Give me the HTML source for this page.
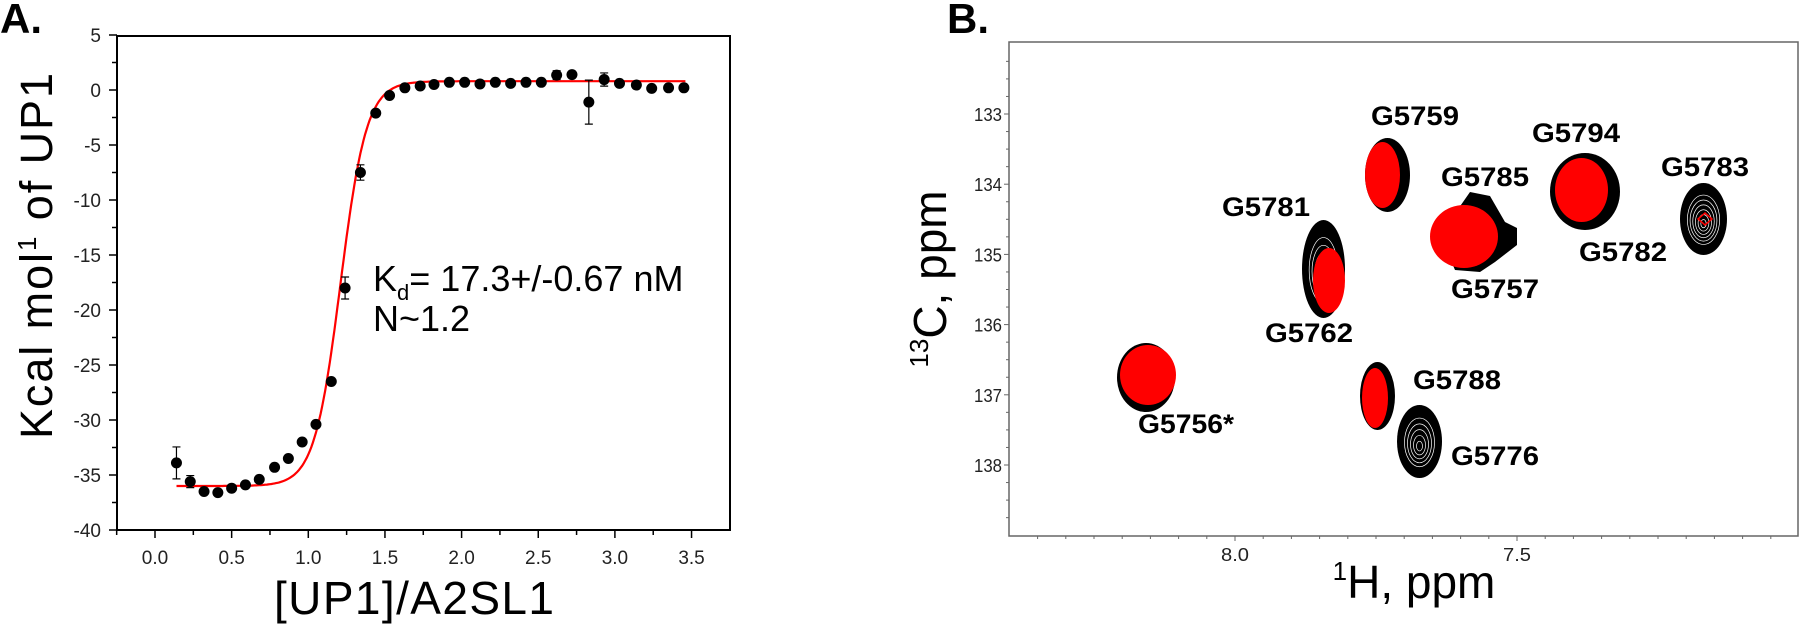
<!DOCTYPE html>
<html><head><meta charset="utf-8"><style>
html,body{margin:0;padding:0;background:#fff;}
svg{display:block;font-family:"Liberation Sans",sans-serif;}
</style></head><body>
<svg id="s" width="1800" height="625" viewBox="0 0 1800 625" xmlns="http://www.w3.org/2000/svg">
<rect width="1800" height="625" fill="#fff"/>
<!-- Panel A -->
<text x="0" y="33" font-size="42" font-weight="bold">A.</text>
<rect x="117" y="36" width="613" height="494" fill="none" stroke="#000" stroke-width="2"/>
<g id="aticks" stroke="#000" stroke-width="1.5"></g>
<g id="alabels" font-size="19" fill="#222"></g>
<text x="414" y="614" font-size="46" text-anchor="middle" textLength="280">[UP1]/A2SL1</text>
<text transform="translate(52,256) rotate(-90)" font-size="45" text-anchor="middle" textLength="366">Kcal mol<tspan font-size="26" dy="-16">1</tspan><tspan dy="16"> of UP1</tspan></text>
<path id="fit" fill="none" stroke="#f00" stroke-width="2.2"/>
<g id="pts"></g>
<text x="373" y="291" font-size="36">K<tspan font-size="22" dy="9">d</tspan><tspan dy="-9">= 17.3+/-0.67 nM</tspan></text>
<text x="373" y="331" font-size="36">N~1.2</text>
<!-- Panel B -->
<text x="947" y="33" font-size="42" font-weight="bold">B.</text>
<rect x="1009" y="42" width="789" height="494" fill="none" stroke="#666" stroke-width="1.5"/>
<g id="bticks" stroke="#666" stroke-width="1"></g>
<g id="blabels" font-size="18" fill="#222"></g>
<text x="1414" y="598" font-size="46" text-anchor="middle"><tspan font-size="26" dy="-18">1</tspan><tspan dy="18">H, ppm</tspan></text>
<text transform="translate(946,279) rotate(-90)" font-size="46" text-anchor="middle"><tspan font-size="26" dy="-18">13</tspan><tspan dy="18">C, ppm</tspan></text>
<g id="peaks"></g>
<g font-size="27" font-weight="bold" fill="#000" lengthAdjust="spacingAndGlyphs">
<text x="1371" y="125" textLength="88" lengthAdjust="spacingAndGlyphs">G5759</text>
<text x="1532" y="142" textLength="88" lengthAdjust="spacingAndGlyphs">G5794</text>
<text x="1441" y="186" textLength="88" lengthAdjust="spacingAndGlyphs">G5785</text>
<text x="1661" y="176" textLength="88" lengthAdjust="spacingAndGlyphs">G5783</text>
<text x="1222" y="216" textLength="88" lengthAdjust="spacingAndGlyphs">G5781</text>
<text x="1579" y="261" textLength="88" lengthAdjust="spacingAndGlyphs">G5782</text>
<text x="1451" y="298" textLength="88" lengthAdjust="spacingAndGlyphs">G5757</text>
<text x="1265" y="342" textLength="88" lengthAdjust="spacingAndGlyphs">G5762</text>
<text x="1413" y="389" textLength="88" lengthAdjust="spacingAndGlyphs">G5788</text>
<text x="1138" y="433" textLength="96" lengthAdjust="spacingAndGlyphs">G5756*</text>
<text x="1451" y="465" textLength="88" lengthAdjust="spacingAndGlyphs">G5776</text>
</g>
</svg>
<script>
var NS="http://www.w3.org/2000/svg";
function el(p,t,a,txt){var e=document.createElementNS(NS,t);for(var k in a)e.setAttribute(k,a[k]);if(txt!=null)e.textContent=txt;document.getElementById(p).appendChild(e);return e;}
function X(x){return 155+153.3*x;} function Y(y){return 90-11*y;}
for(var v=-40;v<=5;v+=2.5){var maj=(v%5===0);el("aticks","line",{x1:117,x2:117-(maj?8:5),y1:Y(v),y2:Y(v)});
 if(maj)el("alabels","text",{x:101,y:Y(v)+7,"text-anchor":"end"},String(v));}
for(var v=-0.25;v<=3.6;v+=0.25){var maj=Math.abs(v*2-Math.round(v*2))<1e-6;el("aticks","line",{x1:X(v),x2:X(v),y1:530,y2:530+(maj?8:5)});
 if(maj&&v>=0)el("alabels","text",{x:X(v),y:564,"text-anchor":"middle"},v.toFixed(1));}
var d="";for(var x=0.14;x<=3.46;x+=0.01){var y=-36+36.8/(1+Math.exp(-(x-1.21)/0.085));d+=(d?"L":"M")+X(x).toFixed(1)+","+Y(y).toFixed(1);}
document.getElementById("fit").setAttribute("d",d);
var P=[[0.14,-33.9,1.45],[0.23,-35.6,0.55],[0.32,-36.5],[0.41,-36.6],[0.5,-36.2],[0.59,-35.9],[0.68,-35.4],[0.78,-34.3],[0.87,-33.5],[0.96,-32.0],[1.05,-30.4],[1.15,-26.5],[1.24,-18.0,1.0],[1.34,-7.5,0.7],[1.44,-2.1],[1.53,-0.5],[1.63,0.2],[1.73,0.36],[1.82,0.5],[1.92,0.7],[2.02,0.7],[2.12,0.55],[2.22,0.7],[2.32,0.6],[2.42,0.7],[2.52,0.7],[2.62,1.35,0.4],[2.72,1.4,0.3],[2.83,-1.1,2.0],[2.93,0.95,0.6],[3.03,0.6],[3.14,0.45],[3.24,0.15],[3.35,0.2],[3.45,0.2]];
P.forEach(function(p){var cx=X(p[0]),cy=Y(p[1]);if(p[2]){var a=Y(p[1]+p[2]),b=Y(p[1]-p[2]);
 el("pts","path",{d:"M"+cx+","+a+"V"+b+"M"+(cx-4)+","+a+"H"+(cx+4)+"M"+(cx-4)+","+b+"H"+(cx+4),stroke:"#000","stroke-width":1.2,fill:"none"});}
 el("pts","circle",{cx:cx,cy:cy,r:5.5,fill:"#000"});});
function BY(c){return 114+70.2*(c-133);} function BX(h){return 1235-564*(h-8.0);}
for(var c=132.0;c<=138.75;c+=0.25){var maj=Math.abs(c-Math.round(c))<1e-6;var yy=BY(c);if(yy<44||yy>534)continue;el("bticks","line",{x1:1009,x2:1009-(maj?5:3),y1:yy,y2:yy});
 if(maj)el("blabels","text",{x:1002,y:yy+7,"text-anchor":"end",textLength:28,lengthAdjust:"spacingAndGlyphs"},String(c));}
for(var h=8.4;h>=7.0;h-=0.05){var xx=BX(h);if(xx<1011||xx>1796)continue;var maj=Math.abs(h*10-Math.round(h*10))<1e-6&&Math.round(h*10)%5===0;
 el("bticks","line",{x1:xx,x2:xx,y1:536,y2:536+(maj?5:3)});
 if(maj)el("blabels","text",{x:xx,y:561,"text-anchor":"middle",textLength:28,lengthAdjust:"spacingAndGlyphs"},h.toFixed(1));}
function peak(x1,y1,x2,y2,col,rings){var cx=(x1+x2)/2,cy=(y1+y2)/2,rx=(x2-x1)/2,ry=(y2-y1)/2;
 el("peaks","ellipse",{cx:cx,cy:cy,rx:rx,ry:ry,fill:col});
 if(rings){for(var i=1;i<=rings;i++){var f=1-i/(rings+1);el("peaks","ellipse",{cx:cx,cy:cy+ry*0.15*(1-f),rx:rx*f*0.8,ry:ry*f*0.8,fill:"none",stroke:"#fff","stroke-width":0.7});}}}
peak(1365,138,1410,212,"#000",0);peak(1365,142,1400,208,"#f00",0);
peak(1302,220,1345,318,"#000",5);peak(1313,248,1345,313,"#f00",0);
peak(1117,343,1175,412,"#000",0);peak(1120,345,1176,405,"#f00",0);
peak(1360,362,1395,430,"#000",0);peak(1362,368,1388,428,"#f00",0);
peak(1397,405,1442,478,"#000",5);
el("peaks","path",{d:"M1440,235 L1470,192 L1490,196 L1505,222 L1517,228 L1517,245 L1495,262 L1480,272 L1455,270 Z",fill:"#000"});
peak(1430,205,1498,268,"#f00",0);
peak(1550,153,1620,230,"#000",0);peak(1555,158,1608,222,"#f00",0);
peak(1680,183,1727,255,"#000",6);
el("peaks","path",{d:"M1705,213 L1712,219 L1705,225 L1698,219Z",fill:"none",stroke:"#f00","stroke-width":1.5});
</script>
</body></html>
